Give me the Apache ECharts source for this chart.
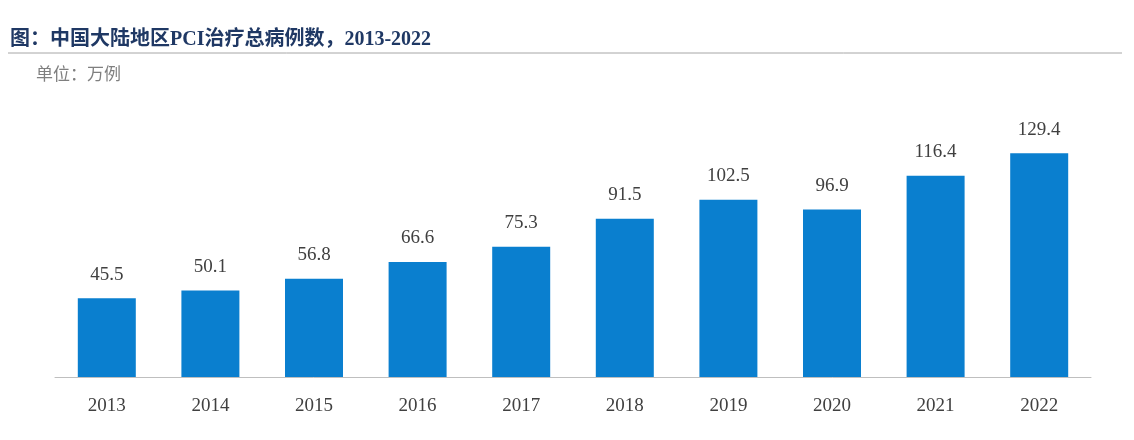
<!DOCTYPE html>
<html>
<head>
<meta charset="utf-8">
<title>PCI</title>
<script src="https://cdn.jsdelivr.net/npm/echarts@6/dist/echarts.min.js"></script>
<style>
body{margin:0;background:#fff;}
#main{width:1134px;height:440px;}
</style>
</head>
<body>
<div id="main"></div>
<script>
var years = ['2013','2014','2015','2016','2017','2018','2019','2020','2021','2022'];
var cases = [45.5, 50.1, 56.8, 66.6, 75.3, 91.5, 102.5, 96.9, 116.4, 129.4];

var chart = echarts.init(document.getElementById('main'));
chart.setOption({
  animation: false,
  graphic: [
    {type:'text', left:10, top:30, style:{text:'图：中国大陆地区PCI治疗总病例数，2013-2022', font:'bold 20px "Liberation Serif","Noto Sans CJK SC"', fill:'#1f3864'}},
    {type:'line', shape:{x1:8, y1:53, x2:1122, y2:53}, style:{stroke:'#a6a6a6', lineWidth:1}},
    {type:'text', left:36, top:65, style:{text:'单位：万例', font:'17px "Noto Sans CJK SC"', fill:'#7f7f7f'}}
  ],
  grid: {left:55, right:43, top:135, bottom:63},
  xAxis: {
    type:'category', data:years,
    axisTick:{show:false},
    axisLine:{lineStyle:{color:'#bfbfbf'}},
    axisLabel:{color:'#404040', fontSize:19, fontFamily:'Liberation Serif', margin:20}
  },
  yAxis: {type:'value', min:0, max:140, show:false, splitLine:{show:false}},
  series: [{
    type:'bar', data:cases, barWidth:58,
    itemStyle:{color:'#0a7fcf'},
    label:{show:true, position:'top', distance:14, color:'#404040', fontSize:19, fontFamily:'Liberation Serif'}
  }]
});
</script>
</body>
</html>
